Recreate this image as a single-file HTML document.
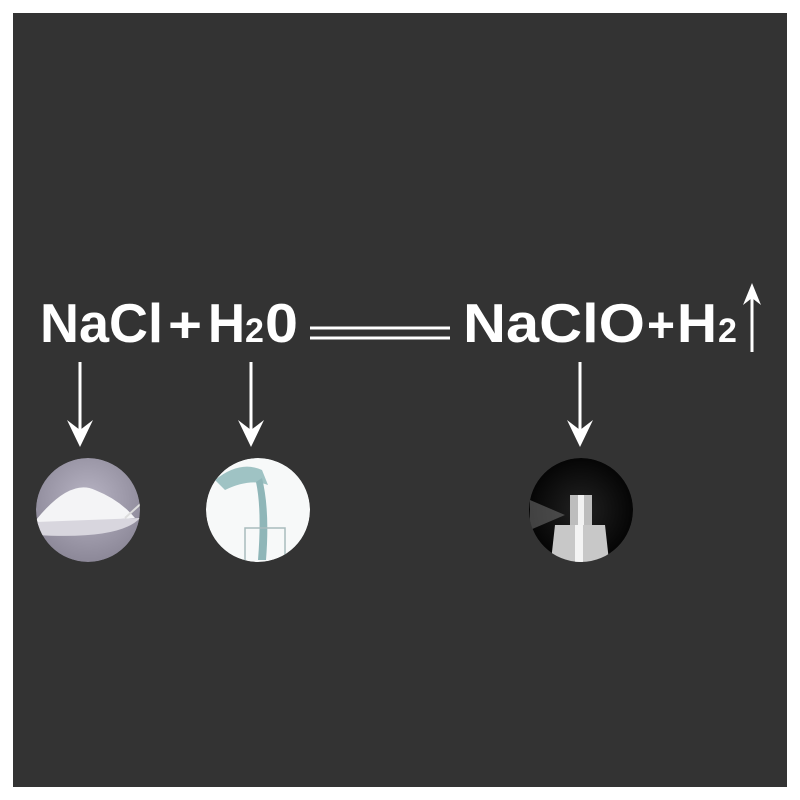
<!DOCTYPE html>
<html><head><meta charset="utf-8"><style>
html,body{margin:0;padding:0;background:#fff;width:800px;height:800px;overflow:hidden}
svg{display:block}
</style></head><body>
<svg width="800" height="800" viewBox="0 0 800 800" xmlns="http://www.w3.org/2000/svg">
<defs>
<radialGradient id="salt" cx="50%" cy="40%" r="60%"><stop offset="0" stop-color="#b8b4c4"/><stop offset="1" stop-color="#8c8898"/></radialGradient>
<radialGradient id="spray" cx="50%" cy="50%" r="50%"><stop offset="0" stop-color="#222"/><stop offset="1" stop-color="#050505"/></radialGradient>
<clipPath id="c1"><circle cx="88" cy="510" r="52"/></clipPath>
<clipPath id="c2"><circle cx="258" cy="510" r="52"/></clipPath>
<clipPath id="c3"><circle cx="581" cy="510" r="52"/></clipPath>
</defs>
<rect x="13" y="13" width="774" height="774" fill="#333333"/>
<g font-family="Liberation Sans, sans-serif" font-weight="bold" fill="#fff">
<text x="40" y="342" font-size="55" textLength="123" lengthAdjust="spacingAndGlyphs">NaCl</text>
<text x="168" y="342" font-size="50" textLength="34" lengthAdjust="spacingAndGlyphs">+</text>
<text x="208" y="342" font-size="55" textLength="37" lengthAdjust="spacingAndGlyphs">H</text>
<text x="245" y="342" font-size="34">2</text>
<text x="265" y="342" font-size="55" textLength="33" lengthAdjust="spacingAndGlyphs">0</text>
<text x="463" y="342" font-size="55" textLength="182" lengthAdjust="spacingAndGlyphs">NaClO</text>
<text x="647" y="342" font-size="50" textLength="28" lengthAdjust="spacingAndGlyphs">+</text>
<text x="677" y="342" font-size="55" textLength="40" lengthAdjust="spacingAndGlyphs">H</text>
<text x="718" y="342" font-size="34">2</text>
</g>
<g stroke="#fff" stroke-width="3" fill="none">
<line x1="310" y1="328" x2="450" y2="328"/>
<line x1="310" y1="338" x2="450" y2="338"/>
<line x1="752" y1="292" x2="752" y2="352"/>
<line x1="80" y1="362" x2="80" y2="435"/>
<line x1="251" y1="362" x2="251" y2="435"/>
<line x1="580" y1="362" x2="580" y2="435"/>
</g>
<g fill="#fff">
<polygon points="743,305 752,283 761,305 752,298"/>
<polygon points="67,420 80,447 93,420 80,430"/>
<polygon points="238,420 251,447 264,420 251,430"/>
<polygon points="567,420 580,447 593,420 580,430"/>
</g>
<g clip-path="url(#c1)">
<circle cx="88" cy="510" r="52" fill="url(#salt)"/>
<path d="M36,520 Q70,478 95,490 Q120,500 135,518 L36,525 Z" fill="#f4f4f6"/>
<path d="M36,522 L140,518 Q120,540 36,535 Z" fill="#d8d6de"/>
<line x1="125" y1="518" x2="145" y2="500" stroke="#ddd" stroke-width="2"/>
</g>
<g clip-path="url(#c2)">
<circle cx="258" cy="510" r="52" fill="#f7f9f9"/>
<path d="M215,480 Q240,460 262,470 L268,485 Q250,478 225,490 Z" fill="#9fc3c4"/>
<path d="M262,478 Q270,510 266,560 L258,560 Q262,510 256,482 Z" fill="#8fb6b8"/>
<rect x="245" y="528" width="40" height="40" fill="none" stroke="#a9bcbd" stroke-width="1.5"/>
</g>
<g clip-path="url(#c3)">
<circle cx="581" cy="510" r="52" fill="url(#spray)"/>
<path d="M530,500 L565,515 L530,530 Z" fill="#6a6a6a" opacity="0.6"/>
<rect x="570" y="495" width="22" height="30" fill="#bdbdbd"/>
<rect x="578" y="495" width="6" height="30" fill="#f2f2f2"/>
<path d="M555,525 L605,525 L610,570 L550,570 Z" fill="#c8c8c8"/>
<rect x="575" y="525" width="8" height="45" fill="#f4f4f4"/>
</g>
</svg>
</body></html>
